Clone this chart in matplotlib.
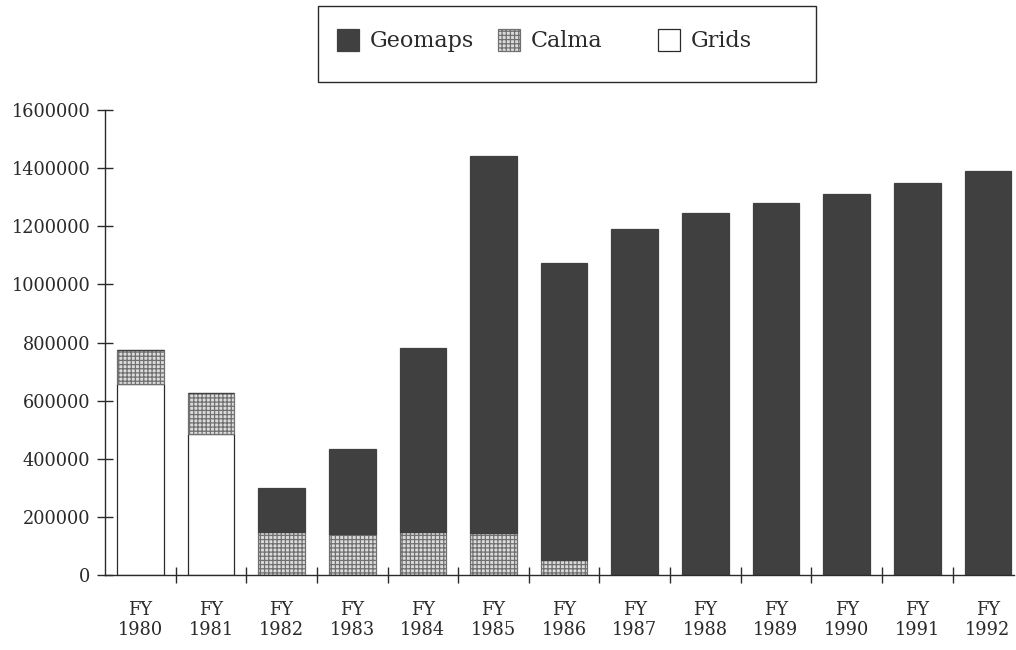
import matplotlib.pyplot as plt
from matplotlib.patches import Rectangle
import numpy as np

years = ['1980', '1981', '1982', '1983', '1984', '1985', '1986',
         '1987', '1988', '1989', '1990', '1991', '1992']
grids = [657000, 485000, 0, 0, 0, 0, 0, 0, 0, 0, 0, 0, 0]
calma = [118000, 141000, 148000, 141000, 148000, 145000, 52000,
         0, 0, 0, 0, 0, 0]
geomaps = [0, 0, 152000, 292000, 632000, 1295000, 1023000,
           1190000, 1245000, 1280000, 1310000, 1350000, 1390000]

plt.rcParams['font.family'] = 'DejaVu Serif'
plt.rcParams['hatch.linewidth'] = 0.9

W, H = 1016, 650
fig = plt.figure(figsize=(W / 100, H / 100), dpi=100)
ax = fig.add_axes([105/W, 75/H, 909/W, 465/H])

x = np.arange(len(years))
w = 0.66
ink = '#2a2a2a'
dark = '#404040'
calma_face = '#dcdcdc'
calma_hatch = '#707070'

ax.bar(x, grids, w, color='white', edgecolor=ink, linewidth=0.9)
ax.bar(x, calma, w, bottom=grids, color=calma_face, edgecolor=calma_hatch,
       hatch='++++', linewidth=0.9)
bottom2 = np.array(grids) + np.array(calma)
ax.bar(x, geomaps, w, bottom=bottom2, color=dark, edgecolor=dark,
       linewidth=0.9)

ax.set_xlim(-0.5, 12.37)
ax.set_ylim(0, 1600000)
ax.set_yticks(np.arange(0, 1600001, 200000))
ax.set_yticklabels([str(v) for v in range(0, 1600001, 200000)])
ax.set_xticks(x)
ax.set_xticklabels(['FY\n' + y for y in years], linespacing=1.15)
ax.set_xticks(x[:-1] + 0.5, minor=True)

ax.tick_params(axis='y', direction='inout', length=11, width=1.0,
               labelsize=12.8, pad=5, colors=ink)
ax.tick_params(axis='x', which='major', length=0, pad=19,
               labelsize=12.8, colors=ink)
ax.tick_params(axis='x', which='minor', direction='inout', length=12,
               width=1.0, colors=ink)

for s in ['top', 'right']:
    ax.spines[s].set_visible(False)
for s in ['left', 'bottom']:
    ax.spines[s].set_color(ink)
    ax.spines[s].set_linewidth(1.0)

# legend drawn by hand so the entries sit where they should
def px(x0, y0):
    return x0 / W, 1 - y0 / H

fig.patches.append(Rectangle(px(318, 82), 498/W, 76/H, transform=fig.transFigure,
                             facecolor='white', edgecolor=ink, linewidth=1.0))
entries = [('Geomaps', 337, dict(facecolor=dark, edgecolor=dark)),
           ('Calma', 498, dict(facecolor=calma_face, edgecolor=calma_hatch, hatch='++++')),
           ('Grids', 658, dict(facecolor='white', edgecolor=ink))]
for name, x0, style in entries:
    fig.patches.append(Rectangle(px(x0, 51), 22/W, 22/H, transform=fig.transFigure,
                                 linewidth=0.9, **style))
    fig.text((x0 + 33) / W, 1 - 41 / H, name, fontsize=16, color=ink,
             ha='left', va='center')

plt.savefig('out.png', dpi=100)
